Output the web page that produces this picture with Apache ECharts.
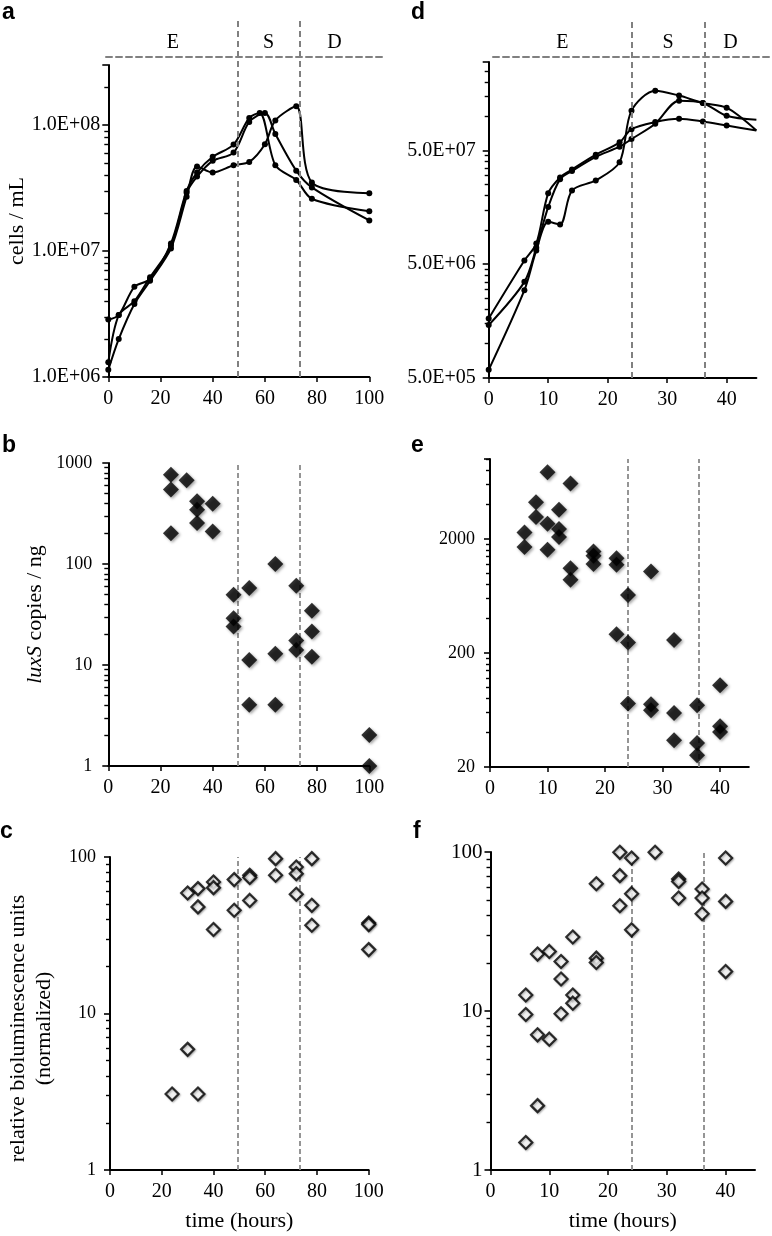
<!DOCTYPE html>
<html><head><meta charset="utf-8">
<script src="https://cdn.jsdelivr.net/npm/echarts@6/dist/echarts.min.js"></script>
<style>html,body{margin:0;padding:0;background:#fff}#c{width:772px;height:1236px}</style>
</head><body><div id="c"></div>
<script>
// ---------- data ----------
const PHASE_NAMES = ['E', 'S', 'D'];
const PHASE_LEFT = [49.5, 73.3];   // hours (panels a,b,c)
const PHASE_RIGHT = [24, 36.3];    // hours (panels d,e,f)

// panel a: cells / mL, three cultures
const tA1 = [0,4,10,16,24,30,34,40,48,54,58,64,72,78,100];
const vA1 = [2.86e6,3.1e6,5.2e6,6.0e6,1.15e7,3.0e7,4.2e7,5.6e7,7.0e7,1.14e8,1.25e8,4.8e7,3.67e7,2.6e7,2.07e7];
const tA2 = [0,4,10,16,24,30,34,40,48,54,60,64,72,78,100];
const vA2 = [1.31e6,3.1e6,4.0e6,6.2e6,1.1e7,2.9e7,3.9e7,5.2e7,6.05e7,1.06e8,1.25e8,8.5e7,4.35e7,3.2e7,1.75e7];
const tA3 = [0,4,10,16,24,30,34,40,48,54,60,64,72,78,100];
const vA3 = [1.14e6,2.0e6,3.8e6,5.8e6,1.05e7,2.7e7,4.7e7,4.2e7,4.8e7,5.1e7,7.05e7,1.09e8,1.41e8,3.5e7,2.88e7];

// panel d: cells / mL, three cultures (last value = where line leaves the plot at 45 h)
const tD = [0,6,8,10,12,14,18,22,24,28,32,36,40,45];
const vD1 = [5.9e5,2.96e6,6.6e6,1.18e7,1.12e7,2.23e7,2.73e7,3.95e7,1.12e8,1.68e8,1.52e8,1.31e8,1.19e8,7.5e7];
const vD2 = [1.46e6,3.5e6,7.0e6,1.59e7,2.8e7,3.3e7,4.4e7,5.4e7,6.3e7,8.6e7,1.37e8,1.31e8,1.01e8,9.3e7];
const vD3 = [1.67e6,5.4e6,7.6e6,2.1e7,2.9e7,3.4e7,4.6e7,5.9e7,7.7e7,8.9e7,9.5e7,9.0e7,8.3e7,7.5e7];

// panel b: luxS copies / ng
const tB = [24,24,24,30,34,34,34,40,40,48,48,48,54,54,54,64,64,64,72,72,72,78,78,78,100,100];
const vB = [766,545,202,674,417,345,254,395,210,49.5,29.1,24.1,57.7,11.2,4.03,100,12.9,4.03,60.8,17.5,14.1,34.4,21.5,12.1,2.03,1];

// panel e: luxS copies / ng
const tE = [6,6,8,8,10,10,10,12,12,12,14,14,14,18,18,18,22,22,22,24,24,24,28,28,28,32,32,32,36,36,36,40,40,40];
const vE = [2275,1690,4170,3100,7650,2710,1600,3600,2430,2070,6090,1103,873,1548,1420,1205,1352,1182,292,644,247,72,1032,71,63,259,59.6,34.3,69.7,32.5,25.3,104,45.5,40.6];

// panel c: relative bioluminescence
const tC = [24,30,30,34,34,34,40,40,40,48,48,54,54,54,64,64,72,72,72,78,78,78,100,100,100];
const vC = [3.06,5.9,58.9,62.8,48,3.06,69.2,63.7,34.4,71.7,45.7,76.4,74,52.8,97.6,76.4,86.3,78.3,57.8,97.6,49.1,36.6,37.9,37,25.6];

// panel f: relative bioluminescence
const tF = [6,6,6,8,8,8,10,10,12,12,12,14,14,14,18,18,18,22,22,22,24,24,24,28,32,32,32,36,36,36,40,40,40];
const vF = [12.6,9.5,1.49,22.8,7.08,2.54,23.7,6.65,20.5,15.9,9.6,29.2,12.6,11.2,63.2,21.5,20.2,99.5,71,45.9,91.7,54.7,32.4,99.5,67.6,65.3,51.3,58.5,51.3,40.9,91.7,48.9,17.7];

// tick labels
const yLabA = ['1.0E+06','1.0E+07','1.0E+08'];
const yLabD = ['5.0E+05','5.0E+06','5.0E+07'];
const yLabB = ['1','10','100','1000'];
const yLabE = ['20','200','2000'];
const yLabC = ['1','10','100'];

// ---------- layout ----------
const SERIF = "'Liberation Serif','Times New Roman',serif";
const G = {
  a: {left:108.3, top:65,  width:261,   height:312},
  b: {left:108.3, top:463, width:261,   height:303},
  c: {left:110,   top:857, width:258.7, height:313},
  d: {left:488.7, top:62,  width:267.7, height:316},
  e: {left:490,   top:459, width:258.8, height:308},
  f: {left:490.5, top:852, width:264.5, height:318}
};
// header (phase) strips: horizontal dashed rule extent in px
const HA = {left:106, right:383, top:20, rule:57};
const HD = {left:493, right:772, top:20, rule:57};

function sci(v){
  const s = Number(v).toExponential(1); const p = s.split('e'); const n = parseInt(p[1],10);
  return p[0] + 'E' + (n < 0 ? '-' : '+') + String(Math.abs(n)).padStart(2,'0');
}
function plain(v){ return String(Number(Number(v).toPrecision(2))); }

const grids = [G.a, G.b, G.c, G.d, G.e, G.f];
const hA = {left:HA.left, top:HA.top, width:HA.right-HA.left, height:(G.a.top+G.a.height)-HA.top};
const hD = {left:HD.left, top:HD.top, width:HD.right-HD.left, height:(G.d.top+G.d.height)-HD.top};
grids.push(hA, hD);

const xMaxs = [100,100,100,45,45,45];
function xAxis(i, name){
  const o = {
    type:'value', gridIndex:i, min:0, max:xMaxs[i], interval:i<3?20:10,
    axisLine:{show:true, onZero:false, lineStyle:{color:'#000', width:2}},
    axisTick:{show:true, length:5, lineStyle:{color:'#000', width:1.5}},
    axisLabel:{fontFamily:SERIF, fontSize:20, color:'#000', margin:12, showMaxLabel: i<3},
    splitLine:{show:false}
  };
  if (name) { o.name = name; o.nameLocation = 'middle'; o.nameGap = 40;
    o.nameTextStyle = {fontFamily:SERIF, fontSize:22, color:'#000'}; }
  return o;
}
function yAxis(i, min, max, labels, fmt, fs, margin, extra){
  return Object.assign({
    type:'log', logBase:10, gridIndex:i, min, max, interval:1,
    axisLine:{show:true, onZero:false, lineStyle:{color:'#000', width:2}},
    axisTick:{show:true, length:6, lineStyle:{color:'#000', width:1.6}},
    minorTick:{show:true, splitNumber:9, length:4, lineStyle:{color:'#000', width:1.4}},
    splitLine:{show:false}, minorSplitLine:{show:false},
    axisLabel:{fontFamily:SERIF, fontSize:fs, color:'#000', margin:margin,
      formatter: v => { const s = fmt(v); return labels.indexOf(s) >= 0 ? s : ''; }}
  }, extra || {});
}

function pxToX(g, xmax, px){ return (px - g.left) / g.width * xmax; }

const xAxes = [xAxis(0), xAxis(1), xAxis(2,'time (hours)'), xAxis(3), xAxis(4), xAxis(5,'time (hours)')];
const ruleStyle = {color:'#808080', width:2, type:[6,4]};
function headerX(gi, g, xmax, h){
  return {type:'value', gridIndex:gi, min:pxToX(g,xmax,h.left), max:pxToX(g,xmax,h.right),
    position:'top', offset:-(h.rule-h.top), axisLine:{show:true, onZero:false, lineStyle:ruleStyle},
    axisTick:{show:false}, axisLabel:{show:false}, splitLine:{show:false}};
}
xAxes.push(headerX(6, G.a, 100, HA), headerX(7, G.d, 45, HD));

const nameStyle = {fontFamily:SERIF, fontSize:22, color:'#000'};
const yAxes = [
  yAxis(0, 1e6, 3e8, yLabA, sci, 20, 8, {name:'cells / mL', nameLocation:'middle', nameGap:79, nameTextStyle:nameStyle}),
  yAxis(1, 1, 1000, yLabB, plain, 18, 16, {name:'{i|luxS} copies / ng', nameLocation:'middle', nameGap:62,
    nameTextStyle:Object.assign({}, nameStyle, {rich:{i:{fontStyle:'italic', fontFamily:SERIF, fontSize:22, color:'#000'}}})}),
  yAxis(2, 1, 100, yLabC, plain, 18, 14, {name:'relative bioluminescence units\n(normalized)', nameLocation:'middle', nameGap:53,
    nameTextStyle:Object.assign({}, nameStyle, {lineHeight:26, padding:[0, 30, 0, 0]})}),
  yAxis(3, 5e5, 3e8, yLabD, sci, 20, 13),
  yAxis(4, 20, 10000, yLabE, plain, 18, 15),
  yAxis(5, 1, 100, yLabC, plain, 21, 8),
  {type:'value', gridIndex:6, min:0, max:1, show:false},
  {type:'value', gridIndex:7, min:0, max:1, show:false}
];

function lineSeries(k, ts, vs, edgeLast){
  return {type:'line', xAxisIndex:k, yAxisIndex:k, smooth:0.3, symbol:'circle', symbolSize:6,
    lineStyle:{color:'#000', width:2}, itemStyle:{color:'#000'}, z:4, animation:false,
    data: ts.map((t,i) => (edgeLast && i === ts.length-1) ? {value:[t, vs[i]], symbol:'none'} : [t, vs[i]])};
}
const vStyle = {color:'#8a8a8a', width:1.8, type:[5,3]};
function scatterSeries(k, ts, vs, filled, bounds){
  return {type:'scatter', xAxisIndex:k, yAxisIndex:k, symbol:'diamond', clip:false, animation:false, z:4,
    symbolSize: filled ? 16 : 13,
    itemStyle: filled ? {color:'#000', shadowColor:'rgba(0,0,0,0.45)', shadowBlur:3, shadowOffsetX:1.5, shadowOffsetY:1.5}
                      : {color:'#fff', borderColor:'#000', borderWidth:2.2, shadowColor:'rgba(0,0,0,0.35)', shadowBlur:2, shadowOffsetX:1, shadowOffsetY:1},
    data: ts.map((t,i) => [t, vs[i]]),
    markLine:{silent:true, symbol:'none', label:{show:false}, lineStyle:vStyle, z:1,
      data: bounds.map(b => ({xAxis:b}))}
  };
}
function headerSeries(k, bounds, xEnd){
  const edges = [0].concat(bounds, [xEnd]);
  return {type:'line', xAxisIndex:k, yAxisIndex:k, data:[], z:1, animation:false,
    markLine:{silent:true, symbol:'none', label:{show:false}, lineStyle:ruleStyle,
      data: bounds.map(b => ({xAxis:b}))},
    markArea:{silent:true, itemStyle:{color:'rgba(0,0,0,0)'},
      label:{show:true, position:'insideTop', distance:13, fontFamily:SERIF, fontSize:20, color:'#000'},
      data: PHASE_NAMES.map((n,i) => [{xAxis:edges[i], name:n}, {xAxis:edges[i+1]}])}
  };
}

const series = [
  lineSeries(0, tA1, vA1), lineSeries(0, tA2, vA2), lineSeries(0, tA3, vA3),
  scatterSeries(1, tB, vB, true, PHASE_LEFT),
  scatterSeries(2, tC, vC, false, PHASE_LEFT),
  lineSeries(3, tD, vD1, true), lineSeries(3, tD, vD2, true), lineSeries(3, tD, vD3, true),
  scatterSeries(4, tE, vE, true, PHASE_RIGHT),
  scatterSeries(5, tF, vF, false, PHASE_RIGHT),
  headerSeries(6, PHASE_LEFT, 100),
  headerSeries(7, PHASE_RIGHT, 45)
];

const letterStyle = {fontFamily:"'Liberation Sans',Arial,sans-serif", fontWeight:'bold', fontSize:23, color:'#000'};
const letters = [['a',2,1],['b',2,434],['c',0,820],['d',411,1],['e',411,434],['f',413,820]];
const title = letters.map(l => ({text:l[0], left:l[1], top:l[2], padding:0, textStyle:letterStyle}));

const chart = echarts.init(document.getElementById('c'), null, {renderer:'canvas'});
chart.setOption({animation:false, backgroundColor:'#fff', title, grid:grids.map(g => Object.assign({containLabel:false}, g)),
  xAxis:xAxes, yAxis:yAxes, series});
</script></body></html>
